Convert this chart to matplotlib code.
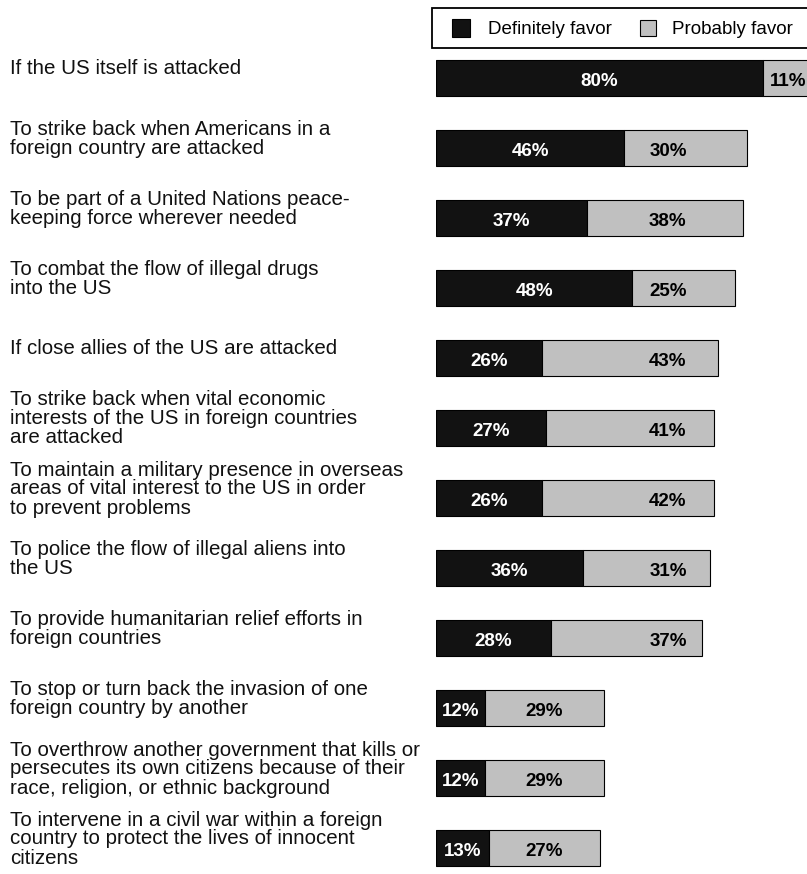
import matplotlib
matplotlib.use('Agg')
import matplotlib.pyplot as plt
from matplotlib.patches import Rectangle
import numpy as np

plt.rcParams['font.family'] = ['Liberation Sans', 'DejaVu Sans']

# survey items, top to bottom
labels = [
    'If the US itself is attacked',
    'To strike back when Americans in a\nforeign country are attacked',
    'To be part of a United Nations peace-\nkeeping force wherever needed',
    'To combat the flow of illegal drugs\ninto the US',
    'If close allies of the US are attacked',
    'To strike back when vital economic\ninterests of the US in foreign countries\nare attacked',
    'To maintain a military presence in overseas\nareas of vital interest to the US in order\nto prevent problems',
    'To police the flow of illegal aliens into\nthe US',
    'To provide humanitarian relief efforts in\nforeign countries',
    'To stop or turn back the invasion of one\nforeign country by another',
    'To overthrow another government that kills or\npersecutes its own citizens because of their\nrace, religion, or ethnic background',
    'To intervene in a civil war within a foreign\ncountry to protect the lives of innocent\ncitizens',
]
definitely = [80, 46, 37, 48, 26, 27, 26, 36, 28, 12, 12, 13]
probably = [11, 30, 38, 25, 43, 41, 42, 31, 37, 29, 29, 27]
legend_labels = ['Definitely favor', 'Probably favor']

black = '#121212'
grey = '#c0c0c0'

W, H = 807, 874
fig = plt.figure(figsize=(W / 100, H / 100), dpi=100)
ax = fig.add_axes([436 / W, 0, 1 - 436 / W, 1])

y = np.arange(len(labels))
d = np.array(definitely)
p = np.array(probably)

ax.barh(y, d, height=0.52, color=black, edgecolor='black', linewidth=0.8)
ax.barh(y, p, left=d, height=0.52, color=grey, edgecolor='black', linewidth=0.8)

# percent labels, nudged down a little so they sit in the middle of the bar
ty = y + 0.05
for i in range(len(labels)):
    ax.text(d[i] / 2, ty[i], '%d%%' % d[i], color='white', fontsize=13.5,
            fontweight='bold', ha='center', va='center')
    end = d[i] + p[i]
    if end > 90:
        ax.text(90.6, ty[i], '%d%%' % p[i], color='black', fontsize=13.5,
                fontweight='bold', ha='right', va='center')
    elif end > 64:
        ax.text(56.7, ty[i], '%d%%' % p[i], color='black', fontsize=13.5,
                fontweight='bold', ha='center', va='center')
    else:
        ax.text(d[i] + p[i] / 2, ty[i], '%d%%' % p[i], color='black', fontsize=13.5,
                fontweight='bold', ha='center', va='center')

ax.set_xlim(0, 90.7)
ax.set_ylim(11.371, -1.114)
ax.axis('off')

# question labels on the left
for i, lab in enumerate(labels):
    ypix = 78 + 70 * i - 9
    fig.text(10 / W, 1 - ypix / H, lab, fontsize=14.8, ha='left', va='center',
             linespacing=1.0, color='#111111')

# legend box drawn by hand so it matches the boxed key at the top
tf = fig.transFigure
fig.patches.append(Rectangle((432 / W, 1 - 48 / H), 380 / W, 40 / H, transform=tf,
                             facecolor='white', edgecolor='black', linewidth=1.3))
fig.patches.append(Rectangle((452 / W, 1 - 37 / H), 18 / W, 18 / H, transform=tf,
                             facecolor=black, edgecolor='black', linewidth=0.8))
fig.patches.append(Rectangle((640 / W, 1 - 36 / H), 16 / W, 16 / H, transform=tf,
                             facecolor=grey, edgecolor='black', linewidth=0.8))
fig.text(488 / W, 1 - 30 / H, legend_labels[0], fontsize=13.5, ha='left', va='center')
fig.text(672 / W, 1 - 30 / H, legend_labels[1], fontsize=13.5, ha='left', va='center')

fig.savefig('out.png', dpi=100)
